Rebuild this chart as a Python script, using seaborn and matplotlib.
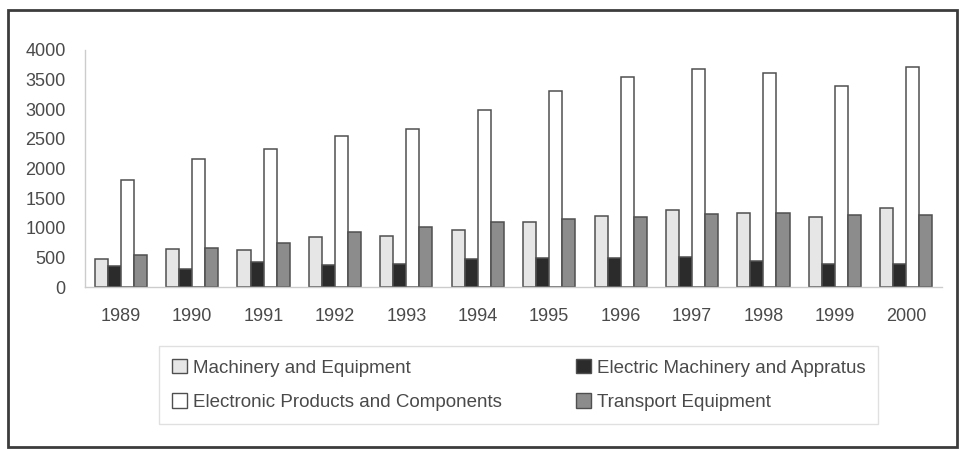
import matplotlib
matplotlib.use("Agg")
import matplotlib.pyplot as plt
from matplotlib.patches import Patch, Rectangle
import seaborn as sns
import pandas as pd

years = ["1989", "1990", "1991", "1992", "1993", "1994",
         "1995", "1996", "1997", "1998", "1999", "2000"]
series_names = ["Machinery and Equipment",
                "Electric Machinery and Appratus",
                "Electronic Products and Components",
                "Transport Equipment"]
machinery = [480, 640, 620, 840, 865, 970, 1090, 1190, 1300, 1245, 1185, 1325]
electric = [355, 310, 420, 365, 390, 470, 495, 495, 500, 445, 390, 390]
electronic = [1810, 2160, 2330, 2550, 2660, 2985, 3305, 3540, 3680, 3610, 3385, 3720]
transport = [540, 655, 735, 930, 1005, 1095, 1150, 1180, 1225, 1255, 1220, 1220]
y_ticks = [0, 500, 1000, 1500, 2000, 2500, 3000, 3500, 4000]

colors = ["#e6e6e6", "#2b2b2b", "#ffffff", "#8c8c8c"]
edge = "#4f4f4f"
text_col = "#4a4a4a"

rows = []
for name, vals in zip(series_names, [machinery, electric, electronic, transport]):
    for yr, v in zip(years, vals):
        rows.append({"year": yr, "series": name, "value": v})
df = pd.DataFrame(rows)

sns.set_style("white")
plt.rcParams["font.family"] = ["Liberation Sans", "DejaVu Sans"]

fig = plt.figure(figsize=(9.59, 4.49), dpi=100)
ax = fig.add_axes([85 / 959, 1 - 287 / 449, (942 - 85) / 959, (287 - 50) / 449])

sns.barplot(data=df, x="year", y="value", hue="series", order=years,
            hue_order=series_names, palette=colors, edgecolor=edge,
            linewidth=1.1, width=0.73, gap=0, legend=False, ax=ax,
            saturation=1)

ax.set_ylim(0, 4000)
ax.set_xlim(-0.5, len(years) - 0.5)
ax.set_yticks(y_ticks)
ax.set_yticklabels([str(t) for t in y_ticks])
ax.set_xlabel("")
ax.set_ylabel("")
ax.tick_params(axis="both", labelsize=13, labelcolor=text_col)
ax.tick_params(axis="x", which="major", length=0, pad=15)
ax.tick_params(axis="y", which="major", length=0, pad=14)
ax.set_xticks([i + 0.5 for i in range(len(years) - 1)], minor=True)
ax.tick_params(axis="x", which="minor", length=4, color="#c8c8c8", width=1)

for side in ["top", "right"]:
    ax.spines[side].set_visible(False)
for side in ["left", "bottom"]:
    ax.spines[side].set_color("#cccccc")
    ax.spines[side].set_linewidth(1)

handles = [Patch(facecolor=c, edgecolor=edge, linewidth=1) for c in colors]
order = [0, 2, 1, 3]
leg = fig.legend([handles[i] for i in order], [series_names[i] for i in order],
                 ncol=2, loc="center", bbox_to_anchor=(518.5 / 959, 1 - 385 / 449),
                 fontsize=13.5, frameon=True, fancybox=False,
                 handlelength=0.8, handleheight=0.8, handletextpad=0.32,
                 columnspacing=3.95, labelspacing=0.9, borderpad=0.7)
leg.get_frame().set_edgecolor("#d9d9d9")
leg.get_frame().set_linewidth(1)
for t in leg.get_texts():
    t.set_color(text_col)

# outer frame around the whole chart
fig.add_artist(Rectangle((8 / 959, 2 / 449), 949 / 959, 437 / 449,
                         transform=fig.transFigure, fill=False,
                         edgecolor="#3c3c3c", linewidth=2))

fig.savefig("out.png", dpi=100, facecolor="white")
